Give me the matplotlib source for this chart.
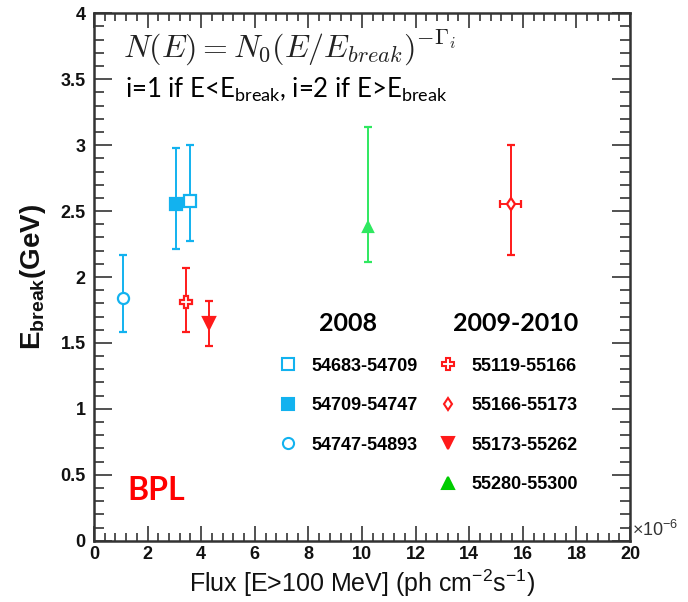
import matplotlib
matplotlib.use("Agg")
import matplotlib.pyplot as plt
from matplotlib.lines import Line2D
from matplotlib.ticker import MultipleLocator, FormatStrFormatter

# data: flux in units of 1e-6 ph cm^-2 s^-1, E_break in GeV
labels_2008 = ["54683-54709", "54709-54747", "54747-54893"]
flux_2008 = [3.59, 3.06, 1.07]
ebreak_2008 = [2.58, 2.55, 1.84]
err_lo_2008 = [0.31, 0.34, 0.255]
err_hi_2008 = [0.42, 0.43, 0.33]

labels_0910 = ["55119-55166", "55166-55173", "55173-55262", "55280-55300"]
flux_0910 = [3.44, 15.55, 4.30, 10.22]
flux_err_0910 = [0.0, 0.39, 0.0, 0.0]
ebreak_0910 = [1.81, 2.55, 1.65, 2.38]
err_lo_0910 = [0.225, 0.38, 0.17, 0.27]
err_hi_0910 = [0.26, 0.45, 0.17, 0.755]

blue = "#12b2ef"
red = "#ff1a1a"
green = "#2fe860"

style_2008 = [
    dict(marker="s", color=blue, mfc="white", ms=8),
    dict(marker="s", color=blue, mfc=blue, ms=8),
    dict(marker="o", color=blue, mfc="white", ms=8),
]
style_0910 = [
    dict(marker="P", color=red, mfc="white", ms=9),
    dict(marker="d", color=red, mfc="white", ms=6),
    dict(marker="v", color=red, mfc=red, ms=8),
    dict(marker="^", color=green, mfc=green, ms=7),
]

sans = ["Liberation Sans", "DejaVu Sans"]
plt.rcParams["mathtext.fontset"] = "custom"
plt.rcParams["mathtext.rm"] = "Lato"
plt.rcParams["mathtext.bf"] = "Liberation Sans:bold"
plt.rcParams["mathtext.sf"] = "Liberation Sans"

fig = plt.figure(figsize=(6.88, 6.02), dpi=100)
ax = fig.add_axes([94 / 688, 1 - 540.7 / 602, 536 / 688, 527.4 / 602])

handles_2008 = []
for i in range(len(flux_2008)):
    st = style_2008[i]
    ax.errorbar(flux_2008[i], ebreak_2008[i],
                yerr=[[err_lo_2008[i]], [err_hi_2008[i]]],
                fmt=st["marker"], color=st["color"], mfc=st["mfc"], mec=st["color"],
                ms=st["ms"], mew=1.6, elinewidth=1.4, capsize=3, capthick=1.4)
    handles_2008.append(Line2D([], [], ls="none", marker=st["marker"], color=st["color"],
                               mfc=st["mfc"], mec=st["color"], ms=st["ms"], mew=1.5))

handles_0910 = []
for i in range(len(flux_0910)):
    st = style_0910[i]
    ax.errorbar(flux_0910[i], ebreak_0910[i],
                xerr=flux_err_0910[i] if flux_err_0910[i] > 0 else None,
                yerr=[[err_lo_0910[i]], [err_hi_0910[i]]],
                fmt=st["marker"], color=st["color"], mfc=st["mfc"], mec=st["color"],
                ms=st["ms"], mew=1.6, elinewidth=1.4, capsize=3, capthick=1.4)
    legc = st["color"] if i < 3 else "#00cc00"
    handles_0910.append(Line2D([], [], ls="none", marker=st["marker"], color=legc,
                               mfc=st["mfc"] if i < 3 else legc, mec=legc,
                               ms=8 if i == 3 else st["ms"], mew=1.5))

ax.set_xlim(0, 20)
ax.set_ylim(0, 4)
ax.xaxis.set_major_locator(MultipleLocator(2))
ax.xaxis.set_minor_locator(MultipleLocator(0.4))
ax.yaxis.set_major_locator(MultipleLocator(0.5))
ax.yaxis.set_minor_locator(MultipleLocator(0.1))
ax.xaxis.set_major_formatter(FormatStrFormatter("%g"))
ax.yaxis.set_major_formatter(FormatStrFormatter("%g"))

for sp in ax.spines.values():
    sp.set_linewidth(1.8)
    sp.set_color("#333333")
ax.tick_params(which="both", direction="in", top=True, right=True, color="#333333", width=1.2)
ax.tick_params(axis="x", which="major", length=11)
ax.tick_params(axis="x", which="minor", length=6)
ax.tick_params(axis="y", which="major", length=13)
ax.tick_params(axis="y", which="minor", length=7)
ax.tick_params(axis="x", pad=4)
ax.tick_params(axis="y", pad=6)
for lab in ax.get_xticklabels() + ax.get_yticklabels():
    lab.set_family(sans)
    lab.set_fontweight("bold")
    lab.set_fontsize(13)
    lab.set_color("#111111")

ax.set_xlabel(r"Flux [E>100 MeV] (ph cm$^{\mathsf{-2}}$s$^{\mathsf{-1}}$)",
              family=sans, fontsize=18, color="#111111", labelpad=3)
ax.set_ylabel(r"E$_{\mathbf{break}}$(GeV)", family=sans, fontweight="bold",
              fontsize=20, color="#111111", labelpad=9)

ax.text(1.003, 0.002, r"$\times$10$^{\mathsf{-6}}$", transform=ax.transAxes,
        family=sans, fontsize=13, color="#333333", ha="left", va="bottom")

ax.text(0.055, 0.934, r"$N(E) = N_0(E/E_{break})^{-\Gamma_i}$", transform=ax.transAxes,
        math_fontfamily="cm", fontsize=23, color="#222222", ha="left", va="center")
ax.text(0.057, 0.855, r"i=1 if E<E$_{\mathrm{break}}$, i=2 if E>E$_{\mathrm{break}}$",
        transform=ax.transAxes, family="Lato", fontsize=18.5, color="black",
        ha="left", va="center")
ax.text(0.062, 0.095, "BPL", transform=ax.transAxes, family="Lato", fontweight="bold",
        fontsize=23, color="#ff0000", ha="left", va="center")

leg_kw = dict(frameon=False, loc="upper left", borderpad=0, borderaxespad=0,
              handlelength=1.0, handletextpad=0.8, labelspacing=1.25,
              prop=dict(family=sans, weight="bold", size=13),
              title_fontproperties=dict(family="Lato", weight="bold", size=18),
              bbox_transform=fig.transFigure)
leg1 = ax.legend(handles_2008, labels_2008, title="2008",
                 bbox_to_anchor=(279 / 688, 1 - 312 / 602), alignment="center", **leg_kw)
ax.add_artist(leg1)
leg2 = ax.legend(handles_0910, labels_0910, title="2009-2010",
                 bbox_to_anchor=(439 / 688, 1 - 312 / 602), alignment="right", **leg_kw)

fig.savefig("out.png", dpi=100)
